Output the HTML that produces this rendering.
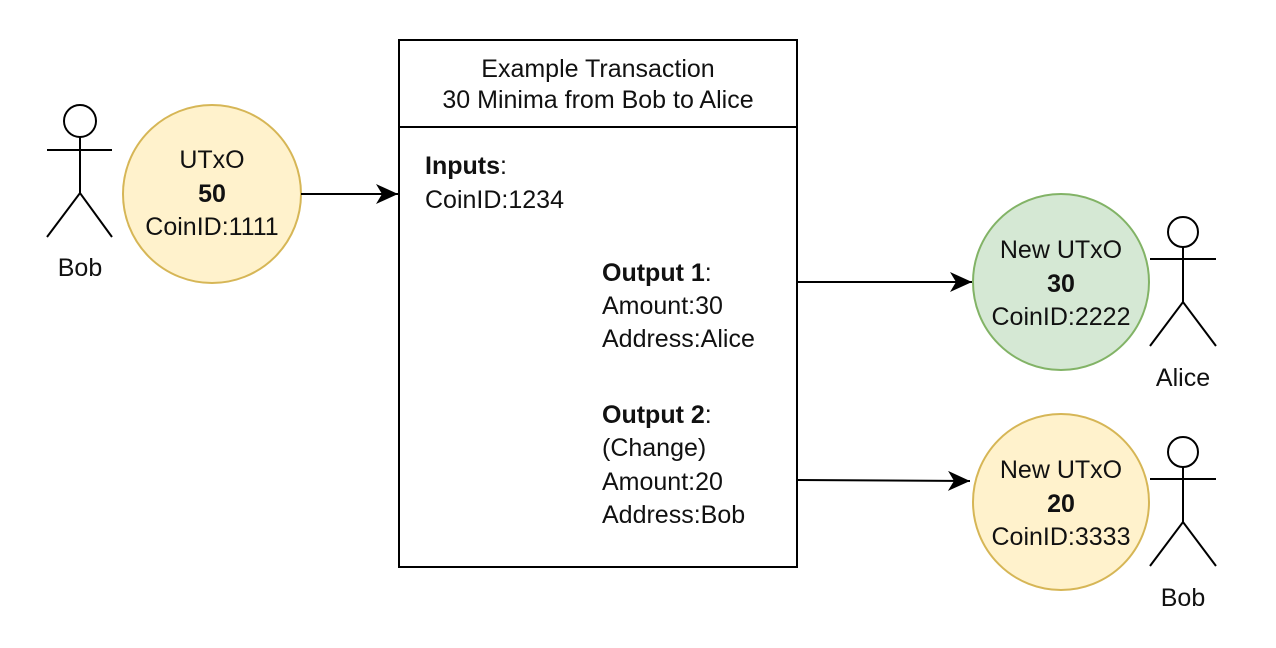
<!DOCTYPE html>
<html><head><style>body{margin:0;background:#fff}svg{display:block}text{font-family:"Liberation Sans",sans-serif;font-size:25px;fill:#111}</style></head>
<body>
<svg width="1276" height="648" viewBox="0 0 1276 648">
<defs><marker id="b" markerWidth="24" markerHeight="24" refX="22" refY="10" orient="auto" markerUnits="userSpaceOnUse"><path d="M0,0 L22,10 L0,20 L6,10 Z" fill="#000"/></marker></defs>
<g stroke="#000" stroke-width="2" fill="none">
<circle cx="80" cy="121" r="16" fill="#fff"/><line x1="80" y1="137" x2="80" y2="193"/><line x1="47" y1="150" x2="112" y2="150"/><polyline points="47,237 80,193 112,237"/>
<circle cx="1183" cy="232" r="15" fill="#fff"/><line x1="1183" y1="247" x2="1183" y2="302"/><line x1="1150" y1="259" x2="1216" y2="259"/><polyline points="1150,346 1183,302 1216,346"/>
<circle cx="1183" cy="452" r="15" fill="#fff"/><line x1="1183" y1="467" x2="1183" y2="522"/><line x1="1150" y1="479" x2="1216" y2="479"/><polyline points="1150,566 1183,522 1216,566"/>
</g>
<circle cx="212" cy="194" r="89" fill="#fff2cc" stroke="#d6b656" stroke-width="2"/>
<circle cx="1061" cy="282" r="88" fill="#d5e8d4" stroke="#82b366" stroke-width="2"/>
<circle cx="1061" cy="502" r="88" fill="#fff2cc" stroke="#d6b656" stroke-width="2"/>
<rect x="399" y="40" width="398" height="527" fill="#fff" stroke="#000" stroke-width="2"/>
<line x1="399" y1="127" x2="797" y2="127" stroke="#000" stroke-width="2"/>
<g stroke="#000" stroke-width="2">
<line x1="301" y1="194" x2="398" y2="194" marker-end="url(#b)"/>
<line x1="797" y1="282" x2="972" y2="282" marker-end="url(#b)"/>
<line x1="797" y1="480" x2="970" y2="481" marker-end="url(#b)"/>
</g>
<g text-anchor="middle">
<text x="80" y="276" font-size="23">Bob</text>
<text x="1183" y="386" font-size="23">Alice</text>
<text x="1183" y="606" font-size="23">Bob</text>
<text x="212" y="168" font-size="23">UTxO</text>
<text x="212" y="202" font-weight="bold" font-size="23">50</text>
<text x="212" y="235" font-size="23">CoinID:1111</text>
<text x="1061" y="258" font-size="23">New UTxO</text>
<text x="1061" y="292" font-weight="bold" font-size="23">30</text>
<text x="1061" y="325" font-size="23">CoinID:2222</text>
<text x="1061" y="478" font-size="23">New UTxO</text>
<text x="1061" y="512" font-weight="bold" font-size="23">20</text>
<text x="1061" y="545" font-size="23">CoinID:3333</text>
<text x="598" y="77" font-size="24">Example Transaction</text>
<text x="598" y="108" font-size="24">30 Minima from Bob to Alice</text>
</g>
<text x="425" y="174"><tspan font-weight="bold">Inputs</tspan>:</text>
<text x="425" y="208">CoinID:1234</text>
<text x="602" y="281"><tspan font-weight="bold">Output 1</tspan>:</text>
<text x="602" y="314">Amount:30</text>
<text x="602" y="347">Address:Alice</text>
<text x="602" y="423"><tspan font-weight="bold">Output 2</tspan>:</text>
<text x="602" y="456">(Change)</text>
<text x="602" y="490">Amount:20</text>
<text x="602" y="523">Address:Bob</text>
</svg>
</body></html>
